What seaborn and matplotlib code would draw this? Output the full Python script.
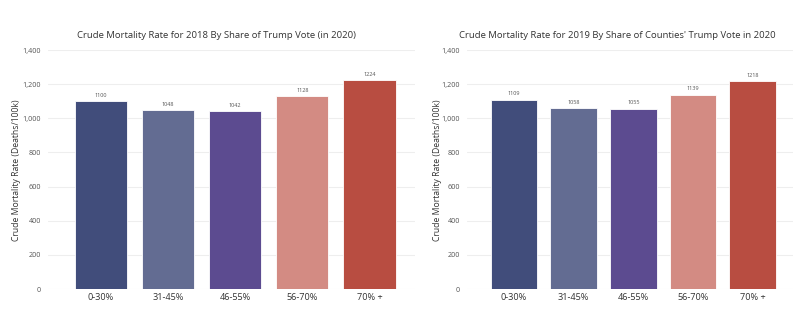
import matplotlib
matplotlib.use("Agg")
import matplotlib.pyplot as plt
import seaborn as sns
import pandas as pd

categories = ["0-30%", "31-45%", "46-55%", "56-70%", "70% +"]
rate_2018 = [1100, 1048, 1042, 1128, 1224]
rate_2019 = [1109, 1058, 1055, 1139, 1218]
colors = ["#414D7B", "#636C92", "#5C4B90", "#D38B83", "#B84D41"]
titles = ["Crude Mortality Rate for 2018 By Share of Trump Vote (in 2020)",
          "Crude Mortality Rate for 2019 By Share of Counties' Trump Vote in 2020"]
yticks = [0, 200, 400, 600, 800, 1000, 1200, 1400]
ylabel = "Crude Mortality Rate (Deaths/100k)"

sns.set_theme(style="white")
plt.rcParams['font.family'] = ['Open Sans', 'DejaVu Sans']

fig = plt.figure(figsize=(8, 3.34), dpi=100)
axes_rects = [[48/800, 45/334, 367/800, 239/334],
              [467/800, 45/334, 326/800, 239/334]]
title_x = [216/800, 617/800]
ylabel_x = [17/800, 437/800]

for i, (vals, rect) in enumerate(zip([rate_2018, rate_2019], axes_rects)):
    ax = fig.add_axes(rect)
    df = pd.DataFrame({"cat": categories, "val": vals})
    sns.barplot(data=df, x="cat", y="val", hue="cat", palette=colors,
                legend=False, ax=ax, width=0.78, edgecolor="white", linewidth=0.6,
                saturation=1)
    ax.set_ylim(0, 1400)
    ax.set_xlim(-0.79, 4.68)
    ax.set_yticks(yticks)
    ax.set_yticklabels([f"{v:,}" for v in yticks], fontsize=5.2, color="#555555")
    ax.tick_params(axis="y", length=0, pad=5)
    ax.tick_params(axis="x", length=0, pad=3, labelsize=6.6, labelcolor="#333333")
    ax.yaxis.grid(True, color="#EEEEEE", linewidth=0.8)
    ax.set_axisbelow(True)
    for s in ax.spines.values():
        s.set_visible(False)
    ax.set_xlabel("")
    ax.set_ylabel("")
    for j, v in enumerate(vals):
        ax.annotate(str(v), (j, v), xytext=(0, 2.5), textcoords="offset points",
                    ha="center", va="bottom", fontsize=4, color="#555555")
    fig.text(title_x[i], 1 - 35/334, titles[i], ha="center", va="center",
             fontsize=6.8, color="#333333")
    fig.text(ylabel_x[i], 1 - 170/334, ylabel, ha="center", va="center",
             rotation=90, fontsize=6.2, color="#333333")

fig.savefig("out.png", dpi=100)
